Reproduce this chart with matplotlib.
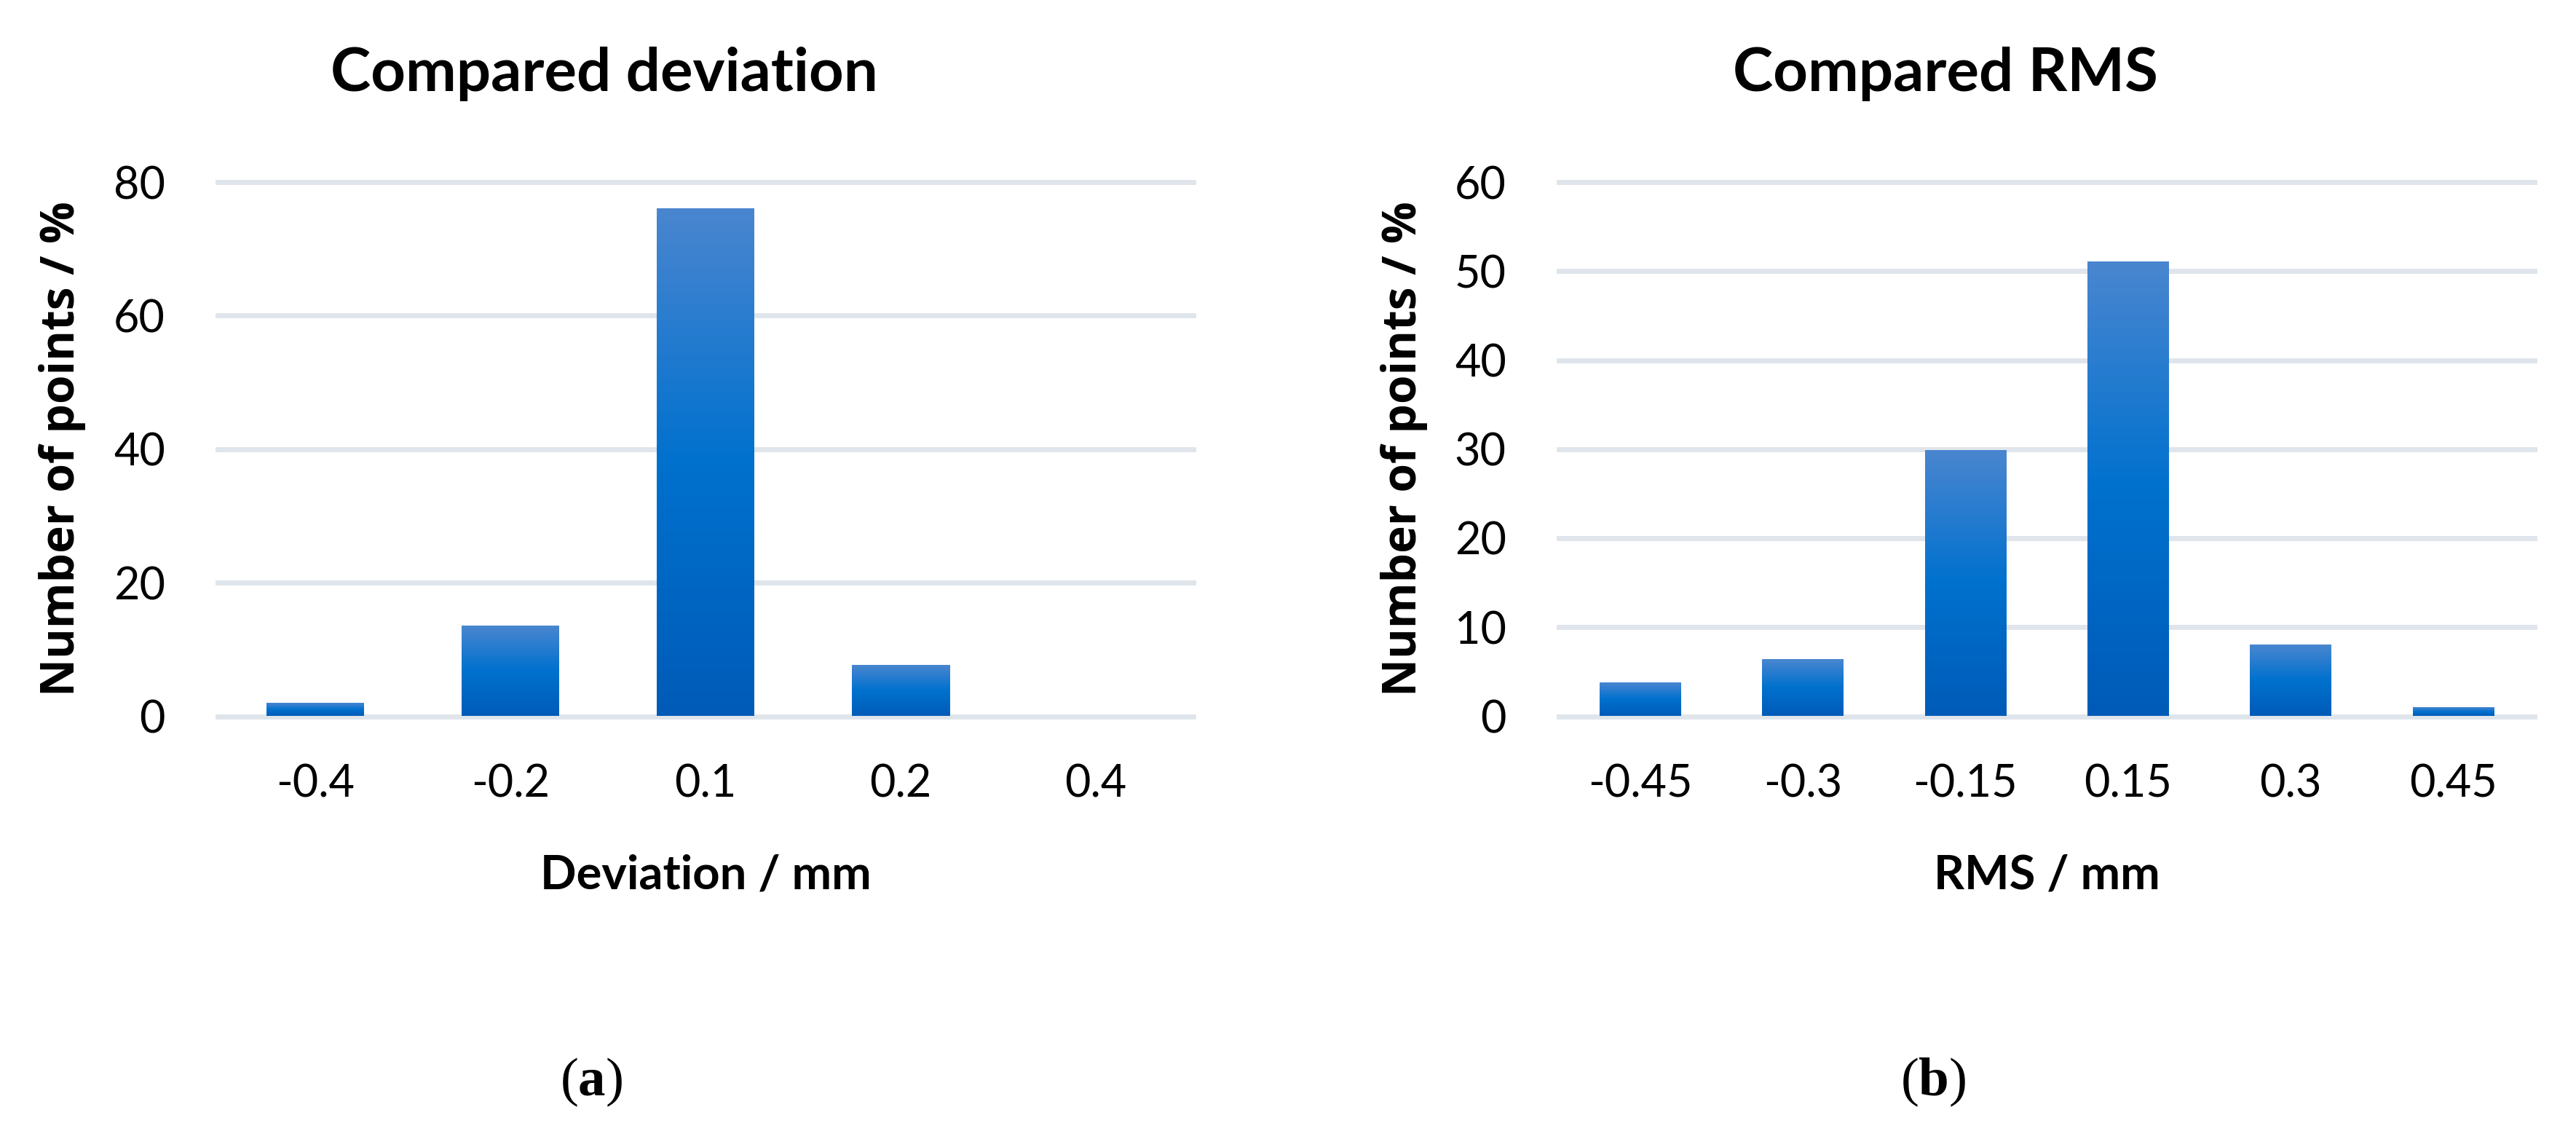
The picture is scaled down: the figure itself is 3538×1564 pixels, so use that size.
import numpy as np
import matplotlib
matplotlib.use("Agg")
import matplotlib.pyplot as plt
from matplotlib.colors import LinearSegmentedColormap

# ---- data ----
dev_labels = ['-0.4', '-0.2', '0.1', '0.2', '0.4']
dev_values = [1.9, 13.5, 76.0, 7.6, 0.0]
rms_labels = ['-0.45', '-0.3', '-0.15', '0.15', '0.3', '0.45']
rms_values = [3.7, 6.3, 29.8, 51.0, 8.0, 0.9]

dev_yticks = [0, 20, 40, 60, 80]
rms_yticks = [0, 10, 20, 30, 40, 50, 60]

title_a = 'Compared deviation'
title_b = 'Compared RMS'
xlabel_a = 'Deviation / mm'
xlabel_b = 'RMS / mm'
ylabel = 'Number of points / %'

# ---- style ----
W, H = 3538, 1564
DPI = 100
SANS = ['Lato', 'DejaVu Sans']
YLAB_FONT = ['Open Sans', 'DejaVu Sans']
GRID = '#dfe5eb'
grad = LinearSegmentedColormap.from_list(
    'bar', [(0.0, '#005bb8'), (0.5, '#0071ce'), (1.0, '#4a86d0')])

plt.rcParams['mathtext.fontset'] = 'custom'
plt.rcParams['mathtext.rm'] = 'Liberation Serif'
plt.rcParams['mathtext.bf'] = 'Liberation Serif:bold'

fig = plt.figure(figsize=(W / DPI, H / DPI), dpi=DPI)
fig.patch.set_facecolor('white')

ax_bottom_px, ax_top_px = 983.5, 250
axes_specs = [
    (299, 1639, dev_labels, dev_values, dev_yticks, title_a, xlabel_a, '(a)', 'a', 830, 85, 812),
    (2141, 3481, rms_labels, rms_values, rms_yticks, title_b, xlabel_b, '(b)', 'b', 2672, 1928, 2655),
]

for (x0, x1, labels, values, yticks, title, xlabel, tag, letter,
     title_x, ylab_x, tag_x) in axes_specs:
    ax = fig.add_axes([x0 / W, 1 - ax_bottom_px / H, (x1 - x0) / W,
                       (ax_bottom_px - ax_top_px) / H])
    n = len(labels)
    xs = np.arange(n)
    bars = ax.bar(xs, values, width=0.5, facecolor='none', edgecolor='none', zorder=3)
    for rect in bars:
        bx, by, bw, bh = rect.get_x(), rect.get_y(), rect.get_width(), rect.get_height()
        if bh <= 0:
            continue
        ax.imshow(np.linspace(0, 1, 256).reshape(-1, 1), cmap=grad, origin='lower',
                  extent=[bx, bx + bw, by, by + bh], aspect='auto', zorder=3,
                  interpolation='bilinear')
    for yv in yticks:
        ax.axhline(yv, color=GRID, lw=5.0, zorder=1, clip_on=False)
    ax.set_xlim(-0.5, n - 0.5)
    ax.set_ylim(yticks[0], yticks[-1])
    ax.set_xticks(xs)
    ax.set_xticklabels(labels, family=SANS, fontsize=44)
    ax.set_yticks(yticks)
    ax.set_yticklabels([str(v) for v in yticks], family=SANS, fontsize=44)
    ax.tick_params(axis='x', length=0, pad=47)
    ax.tick_params(axis='y', length=0, pad=52)
    for s in ax.spines.values():
        s.set_visible(False)
    ax.set_facecolor('none')

    fig.text(title_x / W, 1 - 125 / H, title, family=SANS, fontweight='bold',
             fontsize=60, ha='center', va='baseline')
    fig.text((x0 + x1) / 2 / W, 1 - 1220 / H, xlabel, family=SANS, fontweight='bold',
             fontsize=47, ha='center', va='baseline')
    fig.text(ylab_x / W, 1 - 616 / H, ylabel, family=YLAB_FONT, fontweight='bold',
             fontsize=46, ha='center', va='center', rotation=90)
    fig.text(tag_x / W, 1 - 1485 / H, r'$\mathrm{(}\mathbf{' + letter + r'}\mathrm{)}$',
             fontsize=54, ha='center', va='center')

fig.savefig('out.png', dpi=DPI, facecolor='white')
